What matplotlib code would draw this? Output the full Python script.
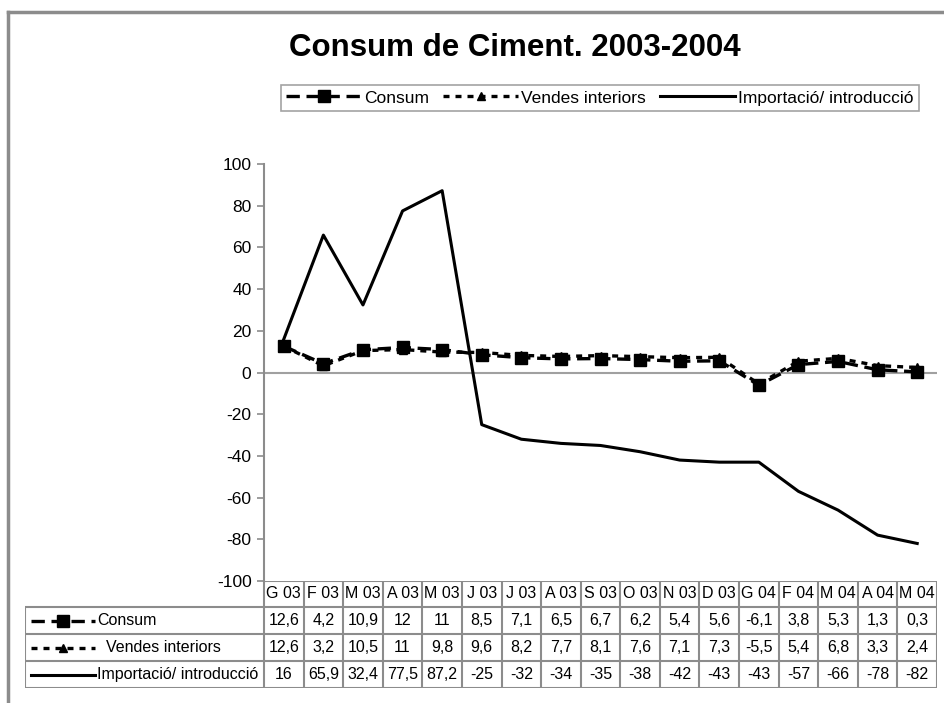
import numpy as np
import matplotlib
matplotlib.use("Agg")
import matplotlib.pyplot as plt
from matplotlib.lines import Line2D

plt.rcParams["font.family"] = ["Liberation Sans", "DejaVu Sans"]
plt.rcParams["axes.unicode_minus"] = False

# ── data ──────────────────────────────────────────────────────────────
months = ["G 03", "F 03", "M 03", "A 03", "M 03", "J 03", "J 03", "A 03", "S 03",
          "O 03", "N 03", "D 03", "G 04", "F 04", "M 04", "A 04", "M 04"]
consum = [12.6, 4.2, 10.9, 12, 11, 8.5, 7.1, 6.5, 6.7, 6.2, 5.4, 5.6, -6.1, 3.8, 5.3, 1.3, 0.3]
vendes = [12.6, 3.2, 10.5, 11, 9.8, 9.6, 8.2, 7.7, 8.1, 7.6, 7.1, 7.3, -5.5, 5.4, 6.8, 3.3, 2.4]
importacio = [16, 65.9, 32.4, 77.5, 87.2, -25, -32, -34, -35, -38, -42, -43, -43, -57, -66, -78, -82]
series_names = ["Consum", "Vendes interiors", "Importació/ introducció"]
yticks = list(range(-100, 101, 20))

W, H = 944, 703
GRID = "#8c8c8c"
FS = 11.5


def fx(px):
    return px / W


def fy(py):
    return 1 - py / H


fig = plt.figure(figsize=(W / 100, H / 100), dpi=100, facecolor="white")

# outer frame (top + left)
fig.add_artist(Line2D([fx(8), 1], [fy(12), fy(12)], color=GRID, lw=2.5, transform=fig.transFigure))
fig.add_artist(Line2D([fx(8), fx(8)], [fy(12), 0], color=GRID, lw=2.5, transform=fig.transFigure))

# ── main plot ─────────────────────────────────────────────────────────
L, R, T, B = 264, 937, 164, 581
ax = fig.add_axes([fx(L), fy(B), fx(R - L), (B - T) / H])
x = np.arange(len(months))

styles = [
    dict(color="black", lw=2.4, dashes=(4, 2), marker="s", ms=8.5),
    dict(color="black", lw=2.4, dashes=(1.8, 1.8), marker="^", ms=6),
    dict(color="black", lw=2.2, ls="-"),
]
handles = []
for vals, name, st in zip([consum, vendes, importacio], series_names, styles):
    h, = ax.plot(x, vals, label=name, **st)
    handles.append(h)

ax.axhline(0, color="#a0a0a0", lw=1.5, zorder=0)
ax.set_xlim(-0.5, len(months) - 0.5)
ax.set_ylim(-100, 100)
ax.set_yticks(yticks)
ax.set_xticks([])
ax.tick_params(axis="y", direction="out", length=5, width=1.2, color=GRID, labelsize=12.5, pad=4)
for s in ["top", "right", "bottom"]:
    ax.spines[s].set_visible(False)
ax.spines["left"].set_color(GRID)
ax.spines["left"].set_linewidth(1.5)

fig.text(fx(515), fy(48), "Consum de Ciment. 2003-2004", ha="center", va="center",
         fontsize=22.5, fontweight="bold")

leg = fig.legend(handles=handles, labels=series_names, loc="center", ncol=3,
                 bbox_to_anchor=(fx(600), fy(98)), frameon=True, fancybox=False,
                 fontsize=12.5, handlelength=4.3, columnspacing=0.8, handletextpad=0.2,
                 borderpad=0.3, borderaxespad=0)
leg.get_frame().set_edgecolor(GRID)
leg.get_frame().set_linewidth(1.2)

# ── data table ────────────────────────────────────────────────────────
TL, TR, TT, TB = 25, 937, 581, 688
tax = fig.add_axes([fx(TL), fy(TB), fx(TR - TL), (TB - TT) / H])
tax.set_xlim(TL, TR)
tax.set_ylim(TB, TT)
tax.axis("off")

ncol = len(months)
cw = (R - L) / ncol
rows_y = [581, 607, 634, 661, 688]
lk = dict(color=GRID, lw=1.5, solid_capstyle="butt")

# horizontal lines
tax.plot([L, R], [rows_y[0], rows_y[0]], **lk)
for yy in rows_y[1:]:
    tax.plot([TL, R], [yy, yy], **lk)
# vertical lines
tax.plot([TL, TL], [rows_y[1], rows_y[-1]], **lk)
for i in range(ncol + 1):
    tax.plot([L + i * cw, L + i * cw], [rows_y[0], rows_y[-1]], **lk)

for i, m in enumerate(months):
    cx = L + (i + 0.5) * cw
    tax.text(cx, (rows_y[0] + rows_y[1]) / 2, m, ha="center", va="center", fontsize=FS)

for r, vals in enumerate([consum, vendes, importacio]):
    cy = (rows_y[r + 1] + rows_y[r + 2]) / 2
    for i, v in enumerate(vals):
        cx = L + (i + 0.5) * cw
        tax.text(cx, cy, f"{v:g}".replace(".", ","), ha="center", va="center", fontsize=FS)
    st = dict(styles[r])
    mk = st.pop("marker", None)
    ms = st.pop("ms", None)
    tax.plot([31, 95], [cy, cy], **st)
    if mk:
        tax.plot([63], [cy], color="black", lw=0, marker=mk, ms=ms)
    tax.text(97 if r != 1 else 106, cy, series_names[r], ha="left", va="center", fontsize=FS)

fig.savefig("out.png", dpi=100, facecolor="white")
